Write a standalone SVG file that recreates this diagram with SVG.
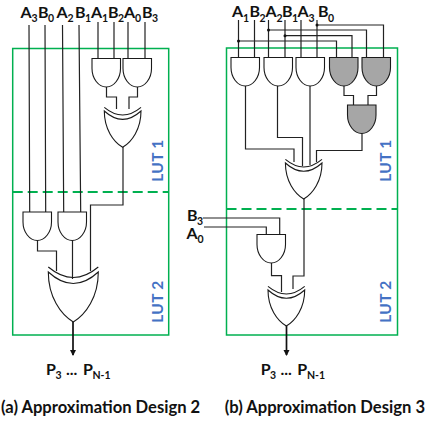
<svg xmlns="http://www.w3.org/2000/svg" width="426" height="426" viewBox="0 0 426 426">
<style>
text{font-family:"Lato","Open Sans","Liberation Sans",sans-serif;font-weight:700;fill:#111}
.m{font-size:16px}.s{font-size:10.5px}.c{font-size:16.6px}
.lut{font-size:15.5px;fill:#4472C4;text-anchor:middle;letter-spacing:.3px}
.g{fill:#fff;stroke:#1a1a1a;stroke-width:1.1}
.d{fill:#A6A6A6}
.n{fill:none;stroke:#1a1a1a;stroke-width:1.1}
.w{fill:none;stroke:#222;stroke-width:1.2}
.o{fill:none;stroke:#111;stroke-width:1.7}
.b{fill:none;stroke:#00B050;stroke-width:1.5}
.da{fill:none;stroke:#00B050;stroke-width:2.2;stroke-dasharray:10 5}
</style>
<defs>
<path id="and" d="M0 0H28.5V10C28.5 20 22 28.5 14.25 28.5C6.5 28.5 0 20 0 10Z"/>
<path id="xb" vector-effect="non-scaling-stroke" d="M0 0Q50 46 100 0C100 50 75 85 50 100C25 85 0 50 0 0Z"/>
<path id="xa" vector-effect="non-scaling-stroke" d="M0 -10Q50 32 100 -10"/>
<marker id="ah" markerUnits="userSpaceOnUse" markerWidth="7" markerHeight="7" refX="5" refY="3" orient="auto"><path d="M0 0L6 3L0 6Z" fill="#111"/></marker>
</defs>

<g id="lut-frames">
<rect class="b" x="12.7" y="48.5" width="156" height="286.5"/>
<path class="da" d="M12.7 192H168.7"/>
<rect class="b" x="226.5" y="48" width="171" height="287"/>
<path class="da" d="M226.5 209H397.5"/>
<text class="lut" transform="translate(162.5 160.5) rotate(-90)">LUT 1</text>
<text class="lut" transform="translate(162.5 301.5) rotate(-90)">LUT 2</text>
<text class="lut" transform="translate(391 160.5) rotate(-90)">LUT 1</text>
<text class="lut" transform="translate(391 301.5) rotate(-90)">LUT 2</text>
</g>

<g id="connectors">
<path class="w" d="M29 25L29.7 212M45 25L45.7 212M62.5 25L63.7 212M79 25L80.7 212"/>
<path class="w" d="M98 22V58.5M114 22V58.5M128 22V58.5M145 22V58.5"/>
<path class="w" d="M106.5 87V97H116.5V109M137.5 87V97H129V109"/>
<path class="w" d="M123 147V205H90.5V271"/>
<path class="w" d="M37.5 240V251H56.5V271M72.5 240V279"/>
<path class="o" d="M73 322V355" marker-end="url(#ah)"/>
<path class="w" d="M238.5 20V57.5M254.5 20V57.5M268.5 20V57.5M285 20V57.5M301 20V57.5M317 20V57.5"/>
<path class="w" d="M238.5 41H336.5V57.5M285 35.7H352V57.5M268.5 30H366.5V57.5M317 25H383.5V57.5"/>
<path class="w" d="M344 86V95.5H353.5V105M376.5 86V95.5H368V105"/>
<path class="w" d="M245.5 86V149H294V162M277.5 86V137.5H302.5V166M310 86V165M362 133.5V150.5H316.5V162"/>
<path class="w" d="M304 199V276H293V289M271.5 263V275.7H281.5V292"/>
<path class="w" d="M203 218H279.7V234M204 227H266.3V234"/>
<path class="o" d="M286.5 326V355" marker-end="url(#ah)"/>
<g fill="#111"><circle cx="238.5" cy="41" r="1.5"/><circle cx="285" cy="35.7" r="1.5"/><circle cx="268.5" cy="30" r="1.5"/><circle cx="317" cy="25" r="1.5"/></g>
</g>

<g id="gates-a">
<use id="a-and1" href="#and" class="g" x="92" y="58.5"/>
<use id="a-and2" href="#and" class="g" x="123" y="58.5"/>
<g id="a-xor1" transform="translate(104.3 111) scale(.367 .363)"><use href="#xb" class="g"/><use href="#xa" class="n"/></g>
<use id="a-and3" href="#and" class="g" x="23" y="212"/>
<use id="a-and4" href="#and" class="g" x="58" y="212"/>
<g id="a-xor2" transform="translate(48.3 272) scale(.5 .5)"><use href="#xb" class="g"/><use href="#xa" class="n"/></g>
</g>

<g id="gates-b">
<use id="b-and1" href="#and" class="g" x="231" y="57.5"/>
<use id="b-and2" href="#and" class="g" x="264" y="57.5"/>
<use id="b-and3" href="#and" class="g" x="296" y="57.5"/>
<use id="b-and4" href="#and" class="g d" x="329.5" y="57.5"/>
<use id="b-and5" href="#and" class="g d" x="362" y="57.5"/>
<use id="b-and6" href="#and" class="g d" x="347.5" y="105"/>
<g id="b-xor1" transform="translate(285.4 163) scale(.366 .36)"><use href="#xb" class="g"/><use href="#xa" class="n"/></g>
<use id="b-and7" href="#and" class="g" x="257" y="234.5"/>
<g id="b-xor2" transform="translate(268 290) scale(.367 .36)"><use href="#xb" class="g"/><use href="#xa" class="n"/></g>
</g>

<g id="labels">
<text class="m" x="20.5" y="17.5">A</text><text class="s" x="31.5" y="22">3</text>
<text class="m" x="38" y="17.5">B</text><text class="s" x="48" y="22">0</text>
<text class="m" x="56.5" y="17.5">A</text><text class="s" x="67.5" y="22">2</text>
<text class="m" x="75" y="17.5">B</text><text class="s" x="85" y="22">1</text>
<text class="m" x="91" y="17.5">A</text><text class="s" x="102" y="22">1</text>
<text class="m" x="108" y="17.5">B</text><text class="s" x="118" y="22">2</text>
<text class="m" x="124" y="17.5">A</text><text class="s" x="135" y="22">0</text>
<text class="m" x="142" y="17.5">B</text><text class="s" x="152" y="22">3</text>

<text class="m" x="232" y="17">A</text><text class="s" x="243" y="21.5">1</text>
<text class="m" x="249.5" y="17">B</text><text class="s" x="259.5" y="21.5">2</text>
<text class="m" x="265.5" y="17">A</text><text class="s" x="276.5" y="21.5">2</text>
<text class="m" x="282" y="17">B</text><text class="s" x="292" y="21.5">1</text>
<text class="m" x="297.5" y="17">A</text><text class="s" x="308.5" y="21.5">3</text>
<text class="m" x="318" y="17">B</text><text class="s" x="328" y="21.5">0</text>

<text class="m" x="187" y="221">B</text><text class="s" x="197" y="225">3</text>
<text class="m" x="186.5" y="238.5">A</text><text class="s" x="197.5" y="243">0</text>

<text class="m" x="46" y="374.5">P</text><text class="s" x="55.5" y="379">3</text><text class="m" x="66" y="374.5">...</text><text class="m" x="83" y="374.5">P</text><text class="s" x="92.5" y="379">N-1</text>
<text class="m" x="260.7" y="374.5">P</text><text class="s" x="270" y="379">3</text><text class="m" x="280.5" y="374.5">...</text><text class="m" x="297.3" y="374.5">P</text><text class="s" x="307" y="379">N-1</text>

<text class="c" x="1" y="413">(a) Approximation Design 2</text>
<text class="c" x="224.7" y="413">(b) Approximation Design 3</text>
</g>
</svg>
